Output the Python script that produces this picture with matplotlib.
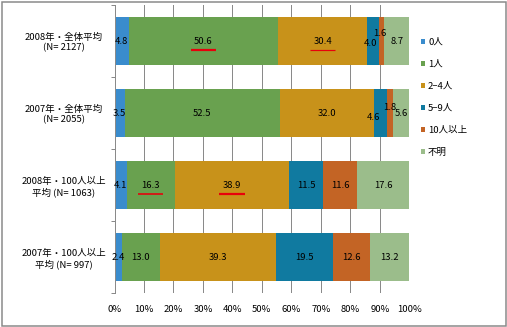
import matplotlib
matplotlib.use("Agg")
import matplotlib.pyplot as plt
from matplotlib.patches import Rectangle
import numpy as np

plt.rcParams['font.family'] = ['Noto Sans CJK JP', 'DejaVu Sans']

# Survey groups (top to bottom) and answer categories
groups = [
    "2008年・全体平均\n(N= 2127)",
    "2007年・全体平均\n(N= 2055)",
    "2008年・100人以上\n平均 (N= 1063)",
    "2007年・100人以上\n平均 (N= 997)",
]
categories = ["0人", "1人", "2−4人", "5−9人", "10人以上", "不明"]

# Share (%) per category, one list per category, ordered like `groups`
v_0 = [4.8, 3.5, 4.1, 2.4]
v_1 = [50.6, 52.5, 16.3, 13.0]
v_2_4 = [30.4, 32.0, 38.9, 39.3]
v_5_9 = [4.0, 4.6, 11.5, 19.5]
v_10plus = [1.6, 1.8, 11.6, 12.6]
v_unknown = [8.7, 5.6, 17.6, 13.2]
series = [v_0, v_1, v_2_4, v_5_9, v_10plus, v_unknown]

colors = ["#3A8CCD", "#69A14F", "#C8921A", "#107AA0", "#C36425", "#9BBD8B"]

# Values highlighted with a red underline: (group index, category index, line width px)
highlights = [(0, 1, 2.2), (0, 2, 1.2), (2, 1, 1.6), (2, 2, 2.2)]

# Small segments whose labels are nudged aside (pixel offsets)
label_nudge = {(0, 3): (-3, -3), (0, 4): (-2, 8), (1, 3): (-7, -4), (1, 4): (0, 6)}

W, H, DPI = 507, 327, 100
fig = plt.figure(figsize=(W / DPI, H / DPI), dpi=DPI)
px = 72.0 / DPI  # points per pixel

x0, x1 = 114.5, 409.3
y_top, y_bot = 5.0, 293.0
ax = fig.add_axes([x0 / W, 1 - y_bot / H, (x1 - x0) / W, (y_bot - y_top) / H])

ypos = np.arange(len(groups))
left = np.zeros(len(groups))
fs = 6.8
for ci, (vals, col) in enumerate(zip(series, colors)):
    vals = np.asarray(vals)
    ax.barh(ypos, vals, left=left, height=0.667, color=col, label=categories[ci],
            zorder=2, linewidth=0)
    for gi, v in enumerate(vals):
        cx = left[gi] + v / 2
        dx, dy = label_nudge.get((gi, ci), (0, 0))
        ax.annotate(f"{v:.1f}", (cx, ypos[gi]), xytext=(dx * px, dy * px),
                    textcoords="offset points", ha="center", va="center",
                    fontsize=fs, color="black", zorder=4)
    left = left + vals

# Red underlines under highlighted values
cum = np.cumsum(np.array(series), axis=0)
for gi, ci, lw in highlights:
    start = cum[ci - 1][gi] if ci > 0 else 0.0
    cx = start + series[ci][gi] / 2
    ax.plot([cx - 4.3, cx + 4.3], [ypos[gi] + 0.125] * 2, color="#E8000B",
            lw=lw * px, solid_capstyle="butt", zorder=5)

ax.set_xlim(0, 100)
ax.set_ylim(len(groups) - 0.5, -0.5)
ax.set_xticks(np.arange(0, 101, 10))
ax.set_xticklabels([f"{t}%" for t in range(0, 101, 10)], fontsize=fs)
ax.tick_params(axis="x", length=0, pad=9)
ax.grid(axis="x", color="#8A8A8A", lw=1.0 * px, zorder=1)
ax.set_axisbelow(True)

ax.set_yticks(ypos)
ax.set_yticklabels(groups, fontsize=fs, ha="center", multialignment="center")
ax.tick_params(axis="y", which="major", length=0, pad=50.5 * px)
ax.set_yticks(np.arange(-0.5, len(groups) + 0.5, 1), minor=True)
ax.tick_params(axis="y", which="minor", length=4 * px, width=1 * px,
               color="#8A8A8A", direction="out")

for s in ["top", "right", "bottom"]:
    ax.spines[s].set_visible(False)
ax.spines["left"].set_color("#8A8A8A")
ax.spines["left"].set_linewidth(1.0 * px)

leg = ax.legend(loc="upper left", bbox_to_anchor=(421 / W, 1 - 38 / H),
                bbox_transform=fig.transFigure, frameon=False, fontsize=fs,
                handlelength=0.45, handleheight=0.45, handletextpad=0.3,
                labelspacing=1.37, borderpad=0, borderaxespad=0)

# Outer frame
fig.patches.append(Rectangle((1.5 / W, 1.5 / H), (W - 3) / W, (H - 3) / H,
                             transform=fig.transFigure, fill=False,
                             edgecolor="#888888", lw=1.5 * px))

fig.savefig("out.png", dpi=DPI)
